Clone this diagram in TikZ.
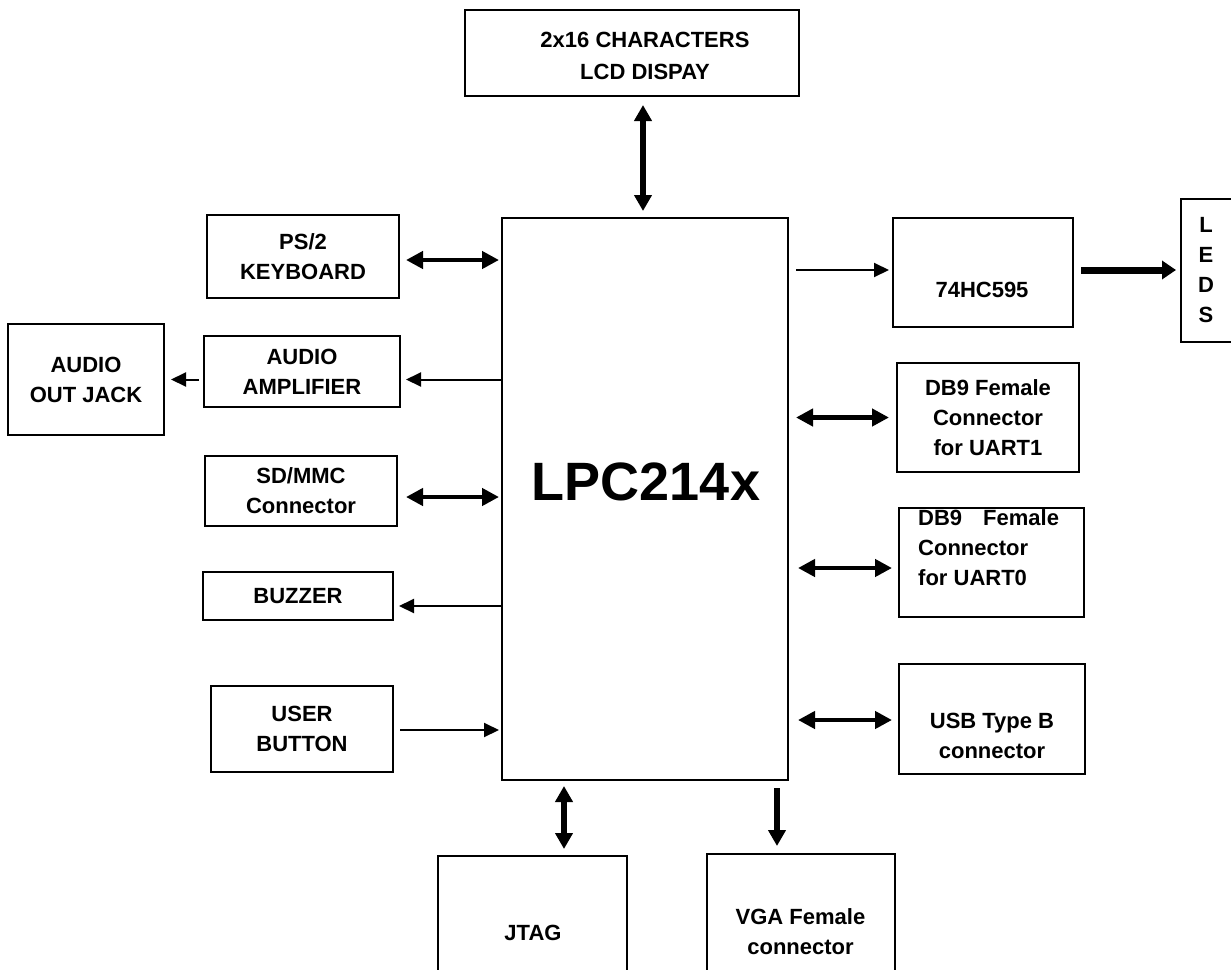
\documentclass[tikz,border=0pt]{standalone}
\usepackage{fontspec}
\setmainfont{Liberation Sans}
\usetikzlibrary{arrows.meta}
\newcommand{\blkfont}{\fontsize{22}{30}\selectfont\bfseries}
\newcommand{\chipfont}{\fontsize{54}{60}\selectfont\bfseries}
\begin{document}
\begin{tikzpicture}[x=1pt, y=-1pt]
        \tikzset{blk/.style={rectangle, draw, line width=2pt, inner sep=0pt, align=center, font=\blkfont},
                 lbl/.style={inner sep=0pt, align=center, font=\blkfont},
                 sig/.style={line width=2pt, -{Triangle[length=15pt, width=14pt]}},
                 bus/.style={line width=4.5pt, {Triangle[length=17pt, width=17pt]}-{Triangle[length=17pt, width=17pt]}},
                 busv/.style={line width=5.5pt, {Triangle[length=16pt, width=17pt]}-{Triangle[length=16pt, width=17pt]}},
                 busout/.style={line width=5.5pt, -{Triangle[length=16pt, width=17pt]}},
                 fat/.style={line width=7pt, -{Triangle[length=14pt, width=18pt]}}}
        \useasboundingbox (0,0) rectangle (1231,969);
        \node[blk, minimum width=286pt, minimum height=562pt] (lpc) at (645,499) {};
        \node[inner sep=0pt, font=\chipfont] (lpcname) at (646,482) {LPC214x};
        \node[blk, minimum width=334pt, minimum height=86pt] (lcd) at (632,53) {};
        \node[lbl, font=\fontsize{22}{32}\selectfont\bfseries] (lcdtext) at (645,55.5) {2x16 CHARACTERS\\LCD DISPAY};
        \node[blk, minimum width=192pt, minimum height=83pt] (ps2) at (303,256.5) {PS/2\\KEYBOARD};
        \node[blk, minimum width=156pt, minimum height=111pt] (jack) at (86,379.5) {AUDIO\\OUT JACK};
        \node[blk, minimum width=196pt, minimum height=71pt] (amp) at (302,371.5) {AUDIO\\AMPLIFIER};
        \node[blk, minimum width=192pt, minimum height=70pt] (sd) at (301,491) {SD/MMC\\Connector};
        \node[blk, minimum width=190pt, minimum height=48pt] (buz) at (298,596) {BUZZER};
        \node[blk, minimum width=182pt, minimum height=86pt] (usr) at (302,729) {USER\\BUTTON};
        \node[blk, minimum width=180pt, minimum height=109pt] (hc) at (983,272.5) {};
        \node[lbl] (hctext) at (982,290) {74HC595};
        \node[blk, minimum width=59pt, minimum height=143pt] (leds) at (1210.5,270.5) {};
        \node[lbl] (ledstext) at (1206,270.5) {L\\E\\D\\S};
        \node[blk, minimum width=182pt, minimum height=109pt] (uart1) at (988,417.5) {DB9 Female\\Connector\\for UART1};
        \node[blk, minimum width=185pt, minimum height=109pt] (uart0) at (991.5,562.5) {};
        \node[lbl, align=left, anchor=west] (uart0text) at (918,548) {DB9\hspace{21pt}Female\\Connector\\for UART0};
        \node[blk, minimum width=186pt, minimum height=110pt] (usb) at (992,719) {};
        \node[lbl] (usbtext) at (992,736) {USB Type B\\connector};
        \node[blk, minimum width=189pt, minimum height=134pt] (jtag) at (532.5,923) {};
        \node[lbl] (jtagtext) at (533,933) {JTAG};
        \node[blk, minimum width=188pt, minimum height=136pt] (vga) at (801,922) {};
        \node[lbl] (vgatext) at (800.5,931.5) {VGA Female\\connector};

        \draw[busv, shorten <=8pt, shorten >=6pt] ([xshift=11pt]lcd.south) -- ([xshift=11pt]lcd.south |- lpc.north);
        \draw[bus, shorten <=6pt, shorten >=2pt] ([yshift=-3.5pt]ps2.east) -- ([yshift=-3.5pt]ps2.east -| lpc.west);
        \draw[sig, shorten >=5pt] (lpc.west |- jack.east) -- (amp.east |- jack.east);
        \draw[sig, shorten <=4pt, shorten >=6pt] (amp.west |- jack.east) -- (jack.east);
        \draw[bus, shorten <=8pt, shorten >=2pt] ([yshift=-6pt]sd.east) -- ([yshift=-6pt]sd.east -| lpc.west);
        \draw[sig, shorten >=5pt] ([yshift=-10pt]buz.east -| lpc.west) -- ([yshift=-10pt]buz.east);
        \draw[sig, shorten <=6pt, shorten >=2pt] ([yshift=-1pt]usr.east) -- ([yshift=-1pt]usr.east -| lpc.west);
        \draw[sig, shorten <=7pt, shorten >=3pt] ([yshift=2.5pt]hc.west -| lpc.east) -- ([yshift=2.5pt]hc.west);
        \draw[fat, shorten <=7pt, shorten >=4pt] ([yshift=2.5pt]hc.east) -- ([yshift=2.5pt]hc.east -| leds.west);
        \draw[bus, shorten <=7pt, shorten >=7pt] (uart1.west -| lpc.east) -- (uart1.west);
        \draw[bus, shorten <=9pt, shorten >=6pt] ([yshift=-5.5pt]uart0.west -| lpc.east) -- ([yshift=-5.5pt]uart0.west);
        \draw[bus, shorten <=9pt, shorten >=6pt] ([yshift=-1pt]usb.west -| lpc.east) -- ([yshift=-1pt]usb.west);
        \draw[busv, shorten <=5pt, shorten >=6pt] ([xshift=31.5pt]jtag.north |- lpc.south) -- ([xshift=31.5pt]jtag.north);
        \draw[busout, shorten <=7pt, shorten >=7pt] ([xshift=-24pt]vga.north |- lpc.south) -- ([xshift=-24pt]vga.north);
    \end{tikzpicture}
\end{document}
